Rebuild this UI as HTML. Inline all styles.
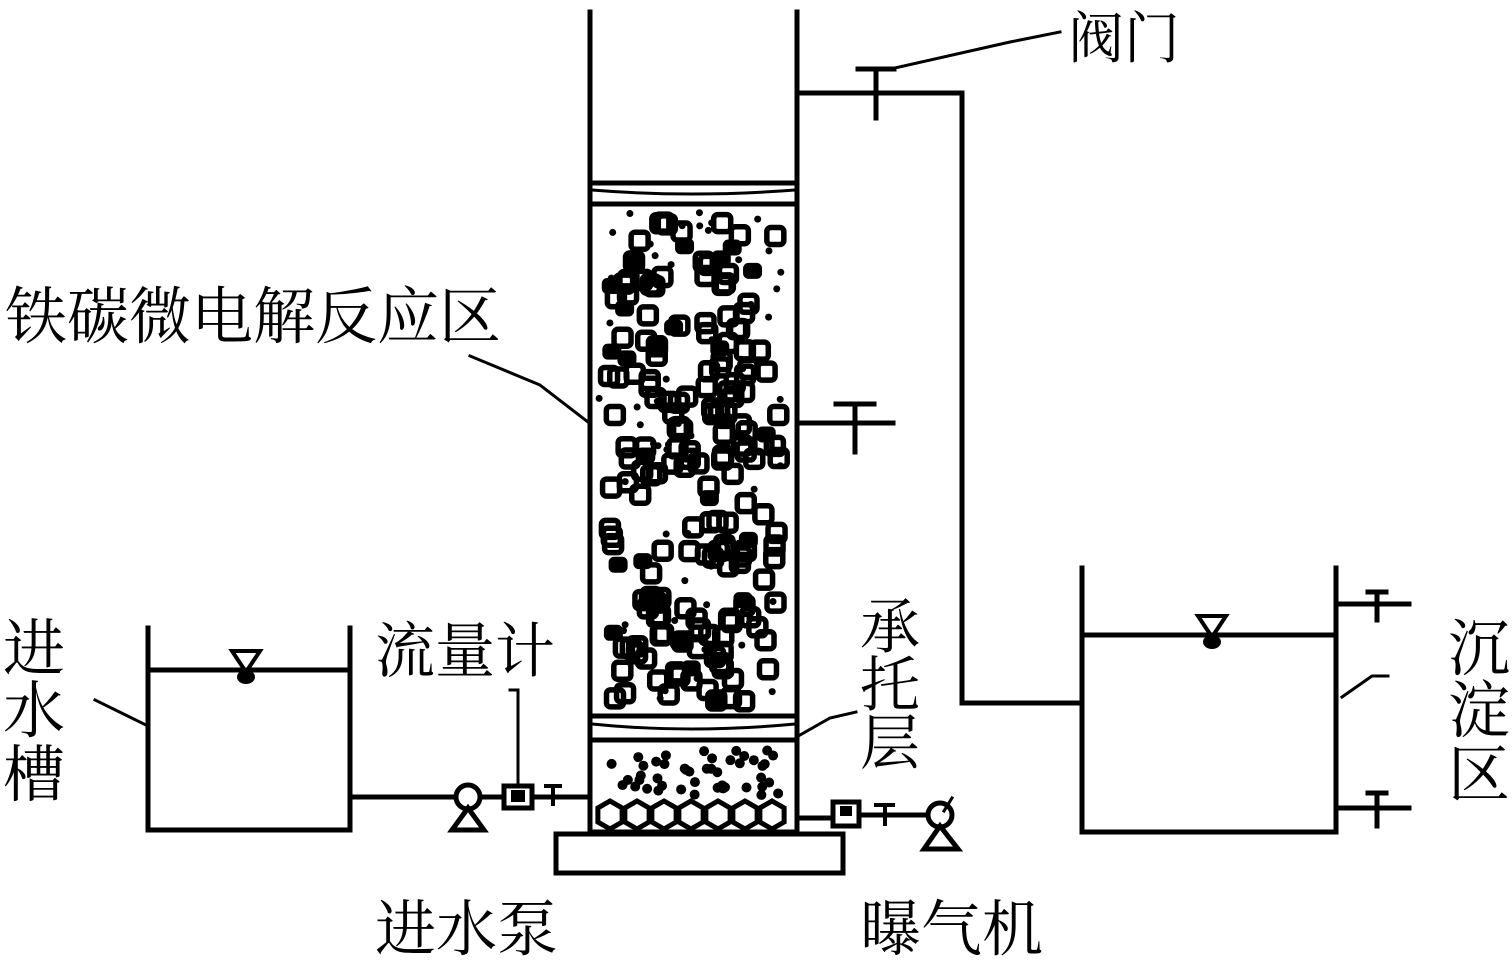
<!DOCTYPE html>
<html><head><meta charset="utf-8"><style>
html,body{margin:0;padding:0;background:#fff;width:1512px;height:961px;overflow:hidden}
svg{position:absolute;left:0;top:0}
text{font-family:"Liberation Serif","Noto Serif CJK SC","Noto Sans CJK SC",serif;fill:#000}
</style></head><body>
<svg id="s" width="1512" height="961" viewBox="0 0 1512 961" xmlns="http://www.w3.org/2000/svg">
<g stroke="#000" stroke-width="5" fill="none" stroke-linecap="square">
<line x1="590" y1="12" x2="590" y2="832"/>
<line x1="797" y1="12" x2="797" y2="832"/>
<line x1="590" y1="183" x2="797" y2="183"/>
<line x1="590" y1="204" x2="797" y2="204"/>
<path d="M592 190 Q690 198 795 190" stroke-width="3"/>
<line x1="590" y1="716" x2="797" y2="716"/>
<line x1="590" y1="740" x2="797" y2="740"/>
<path d="M592 724 Q690 734 795 724" stroke-width="3"/>
<line x1="590" y1="832" x2="797" y2="832"/>
<rect x="556" y="834" width="287" height="39"/>
<polyline points="148,628 148,830 350,830 350,628"/>
<line x1="148" y1="670" x2="350" y2="670"/>
<line x1="350" y1="797" x2="590" y2="797"/>
<line x1="95" y1="700" x2="146" y2="725" stroke-width="3"/>
<circle cx="468" cy="797" r="12" fill="#fff"/>
<polygon points="468,808 452,830 484,830" fill="#fff"/>
<rect x="504" y="786" width="28" height="22" fill="#fff"/>
<rect x="511" y="790" width="14" height="12" fill="#000" stroke="none"/>
<polyline points="518,786 518,690 510,690" stroke-width="3"/>
<line x1="546" y1="786" x2="560" y2="786" stroke-width="4"/>
<line x1="553" y1="786" x2="553" y2="804" stroke-width="4"/>
<line x1="797" y1="818" x2="832" y2="818"/>
<rect x="833" y="802" width="26" height="24" fill="#fff"/>
<rect x="840" y="806" width="12" height="10" fill="#000" stroke="none"/>
<line x1="859" y1="815" x2="928" y2="815"/>
<line x1="876" y1="805" x2="893" y2="805" stroke-width="4"/>
<line x1="885" y1="805" x2="885" y2="824" stroke-width="4"/>
<circle cx="940" cy="815" r="12" fill="#fff"/>
<line x1="944" y1="811" x2="952" y2="798" stroke-width="3"/>
<polygon points="940,826 924,849 958,849" fill="#fff"/>
<line x1="797" y1="423" x2="893" y2="423"/>
<line x1="836" y1="404" x2="874" y2="404"/>
<line x1="855" y1="404" x2="855" y2="452"/>
<polyline points="797,93 962,93 962,703 1080,703"/>
<line x1="858" y1="69" x2="894" y2="69"/>
<line x1="876" y1="69" x2="876" y2="118"/>
<polyline points="895,68 1010,42 1060,32" stroke-width="3"/>
<polyline points="1082,568 1082,832 1336,832 1336,568"/>
<line x1="1082" y1="635" x2="1336" y2="635"/>
<line x1="1336" y1="604" x2="1409" y2="604"/>
<line x1="1368" y1="592" x2="1386" y2="592"/>
<line x1="1377" y1="592" x2="1377" y2="620"/>
<line x1="1336" y1="808" x2="1409" y2="808"/>
<line x1="1368" y1="793" x2="1386" y2="793"/>
<line x1="1377" y1="793" x2="1377" y2="826"/>
<polyline points="1342,697 1372,676 1388,676" stroke-width="3"/>
<polyline points="470,356 540,385 588,422" stroke-width="3"/>
<polyline points="800,735 830,718 856,712" stroke-width="3"/>
</g>
<polygon points="232,651 260,651 246,672" fill="none" stroke="#000" stroke-width="4"/>
<ellipse cx="246" cy="677" rx="9" ry="7" fill="#000"/>
<polygon points="1198,616 1226,616 1212,637" fill="none" stroke="#000" stroke-width="4"/>
<ellipse cx="1212" cy="642" rx="9" ry="7" fill="#000"/>
<g id="pk" stroke="#000" fill="none"></g>
<text x="5" y="338" font-size="62">铁碳微电解反应区</text>
<text x="1068" y="58" font-size="56">阀门</text>
<text x="375" y="672" font-size="60">流量计</text>
<text x="375" y="950" font-size="61">进水泵</text>
<text x="860" y="950" font-size="61">曝气机</text>
<text x="3" y="670" font-size="62">进</text>
<text x="3" y="732" font-size="62">水</text>
<text x="3" y="796" font-size="62">槽</text>
<text x="860" y="648" font-size="60">承</text>
<text x="860" y="706" font-size="60">托</text>
<text x="860" y="764" font-size="60">层</text>
<text x="1448" y="670" font-size="62">沉</text>
<text x="1448" y="732" font-size="62">淀</text>
<text x="1448" y="796" font-size="62">区</text>
</svg>
<script>
var g=document.getElementById('pk'),ns='http://www.w3.org/2000/svg',s=12345;
function r(){s=(s*1103515245+12345)%2147483648;return s/2147483648;}
function el(n,a){var e=document.createElementNS(ns,n);for(var k in a)e.setAttribute(k,a[k]);g.appendChild(e);}
for(var i=0;i<170;i++){var x=599+r()*172,y=212+r()*482;el('rect',{x:x,y:y,width:17,height:17,rx:4,'stroke-width':5.5});}
for(var i=0;i<25;i++){var x=600+r()*170,y=212+r()*490;el('rect',{x:x,y:y,width:18,height:15,rx:5,fill:'#000'});}
for(var i=0;i<60;i++){el('circle',{cx:598+r()*190,cy:210+r()*500,r:3.5,fill:'#000',stroke:'none'});}
for(var i=0;i<45;i++){el('circle',{cx:610+r()*170,cy:750+r()*45,r:5,fill:'#000',stroke:'none'});}
for(var j=0;j<7;j++){var cx=610+j*27,cy=815;var p=[];for(var k=0;k<6;k++){var a=Math.PI/3*k+Math.PI/6;p.push((cx+14*Math.cos(a))+','+(cy+14*Math.sin(a)));}el('polygon',{points:p.join(' '),'stroke-width':5,fill:'none'});}
</script>
</body></html>
